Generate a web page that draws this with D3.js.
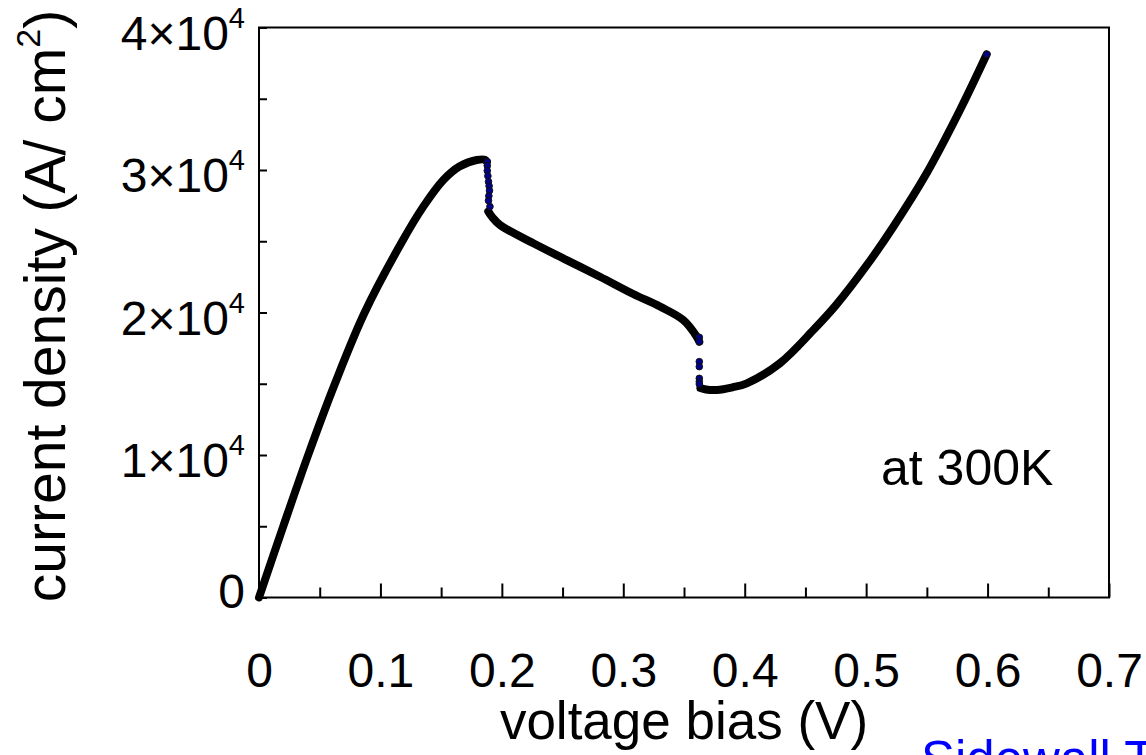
<!DOCTYPE html>
<html>
<head>
<meta charset="utf-8">
<script src="https://cdn.jsdelivr.net/npm/d3@7"></script>
<style>
  body { margin: 0; background: #fff; }
  svg { display: block; font-family: Arial, "Liberation Sans", sans-serif; }
</style>
</head>
<body>
<svg id="chart"></svg>
<script>
// curve, split at the two jumps
let seg1_v = [0, 0.0200, 0.0405, 0.0625, 0.0870, 0.1180, 0.1353, 0.1518, 0.1650, 0.1793, 0.1860, 0.1875];
let seg1_j = [0, 5000, 10000, 15000, 20000, 25000, 27430, 29300, 30250, 30700, 30720, 30600];
let seg2_v = [0.1888, 0.1920, 0.1985, 0.2259, 0.2534, 0.2808, 0.3082, 0.3302, 0.3494, 0.3605, 0.3626];
let seg2_j = [27100, 26700, 26140, 24860, 23680, 22510, 21300, 20420, 19470, 18300, 17950];
let seg3_v = [0.3635, 0.3680, 0.3770, 0.3900, 0.4017, 0.4290, 0.4565, 0.4750, 0.5004, 0.5224, 0.5498, 0.5773, 0.5993];
let seg3_j = [14700, 14600, 14560, 14750, 15030, 16440, 18770, 20500, 23300, 26020, 29770, 34210, 38120];

// separate markers visible in the jump regions
let dots_v = [0.1880, 0.1880, 0.1880, 0.1885, 0.1890, 0.1895, 0.1898, 0.1893, 0.1890, 0.1902,
              0.3626, 0.3626, 0.3626, 0.3626, 0.3626, 0.3626, 0.3626, 0.5993];
let dots_j = [30580, 30300, 29950, 29580, 29180, 28880, 28550, 28180, 27850, 27430,
              18260, 17950, 16550, 16200, 15380, 15150, 14980, 38120];

let x_major = [0, 0.1, 0.2, 0.3, 0.4, 0.5, 0.6, 0.7];
let x_minor = [0.05, 0.15, 0.25, 0.35, 0.45, 0.55, 0.65];
let y_major = [0, 10000, 20000, 30000, 40000];
let y_minor = [5000, 15000, 25000, 35000];

let width = 1146, height = 755;
let margin = ({ top: 27.5, right: 37, bottom: 157.5, left: 259 });

let svg = d3.select('#chart').attr('width', width).attr('height', height);

let x = d3.scaleLinear([0, 0.7], [margin.left, width - margin.right]);
let y = d3.scaleLinear([0, 40000], [height - margin.bottom, margin.top]);

// frame
svg.append('rect')
    .attr('x', x(0)).attr('y', y(40000))
    .attr('width', x(0.7) - x(0)).attr('height', y(0) - y(40000))
    .attr('fill', 'none').attr('stroke', '#000').attr('stroke-width', 2);

// x axis (ticks pointing inward)
let gx = svg.append('g')
    .attr('transform', `translate(0,${y(0)})`)
    .call(d3.axisBottom(x).tickValues(x_major).tickSize(-14).tickPadding(55).tickFormat(d => d === 0 ? '0' : d3.format('.1f')(d)));
svg.append('g')
    .attr('transform', `translate(0,${y(0)})`)
    .call(d3.axisBottom(x).tickValues(x_minor).tickSize(-10).tickFormat(''));

// y axis
let gy = svg.append('g')
    .attr('transform', `translate(${x(0)},0)`)
    .call(d3.axisLeft(y).tickValues(y_major).tickSize(-8).tickPadding(14).tickFormat(''));
svg.append('g')
    .attr('transform', `translate(${x(0)},0)`)
    .call(d3.axisLeft(y).tickValues(y_minor).tickSize(-8).tickFormat(''));

svg.selectAll('.domain').remove();
svg.selectAll('.tick line').attr('stroke', '#000').attr('stroke-width', 2);

gx.selectAll('text').attr('font-size', 48).attr('fill', '#000').attr('font-family', 'Arial, "Liberation Sans", sans-serif');

// y tick labels as  n×10^4
gy.selectAll('.tick text')
    .attr('font-size', 48).attr('fill', '#000').attr('dy', d => d === 0 ? '0.2em' : '0.45em')
    .attr('font-family', 'Arial, "Liberation Sans", sans-serif')
    .each(function (d) {
        let t = d3.select(this);
        if (d === 0) { t.text('0'); return; }
        t.append('tspan').text((d / 10000) + '×10');
        t.append('tspan').attr('font-size', 29).attr('dy', '-0.75em').text('4');
    });

// curve
let line = d3.line().x(d => x(d[0])).y(d => y(d[1])).curve(d3.curveCatmullRom.alpha(0.5));
[[seg1_v, seg1_j], [seg2_v, seg2_j], [seg3_v, seg3_j]].forEach(([vs, js]) => {
    svg.append('path')
        .datum(vs.map((v, i) => [v, js[i]]))
        .attr('d', line)
        .attr('fill', 'none')
        .attr('stroke', '#000')
        .attr('stroke-width', 8)
        .attr('stroke-linecap', 'round')
        .attr('stroke-linejoin', 'round');
});

svg.append('g').selectAll('circle')
    .data(dots_v.map((v, i) => [v, dots_j[i]]))
    .join('circle')
    .attr('cx', d => x(d[0]))
    .attr('cy', d => y(d[1]))
    .attr('r', 3.3)
    .attr('fill', '#00008b')
    .attr('stroke', '#111')
    .attr('stroke-width', 1);

// axis titles
svg.append('text')
    .attr('x', (x(0) + x(0.7)) / 2).attr('y', 739)
    .attr('text-anchor', 'middle').attr('font-size', 53)
    .text('voltage bias (V)');

let ytitle = svg.append('text')
    .attr('transform', 'translate(65,306) rotate(-90)')
    .attr('text-anchor', 'middle').attr('font-size', 57);
ytitle.append('tspan').text('current density (A/ cm');
ytitle.append('tspan').attr('font-size', 34).attr('dy', '-0.75em').text('2');
ytitle.append('tspan').attr('dy', '0.45em').text(')');

// annotation
svg.append('text')
    .attr('x', 881).attr('y', 485)
    .attr('font-size', 50)
    .text('at 300K');

svg.append('text')
    .attr('x', 921).attr('y', 777)
    .attr('font-size', 51).attr('fill', '#0000ff')
    .text('Sidewall T');
</script>
</body>
</html>
